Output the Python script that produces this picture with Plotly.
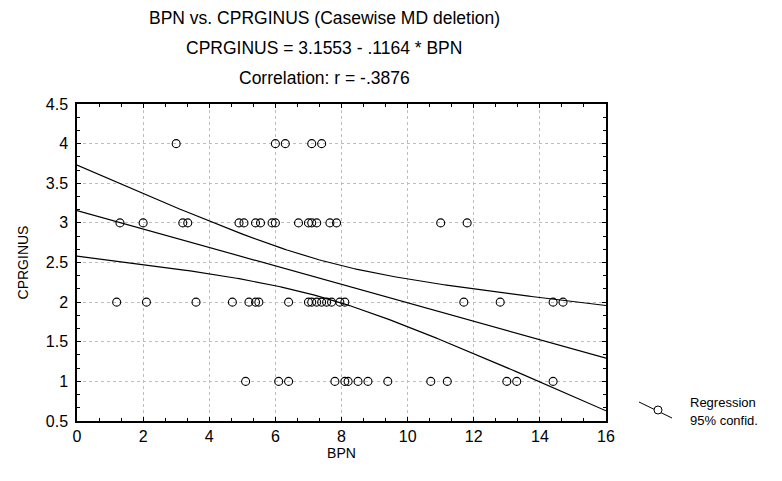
import numpy as np
import plotly.graph_objects as go

# Data (BPN, CPRGINUS)
bpn_y4 = [3.0, 6.0, 6.3, 7.1, 7.4]
bpn_y3 = [1.3, 2.0, 3.2, 3.35, 4.9, 5.05, 5.4, 5.55, 5.9, 6.0, 6.7, 7.0, 7.1, 7.25, 7.65, 7.85, 11.0, 11.8]
bpn_y2 = [1.2, 2.1, 3.6, 4.7, 5.2, 5.4, 5.5, 6.4, 7.0, 7.1, 7.25, 7.4, 7.55, 7.7, 7.95, 8.1, 11.7, 12.8, 14.4, 14.7]
bpn_y1 = [5.1, 6.1, 6.4, 7.8, 8.1, 8.2, 8.5, 8.8, 9.4, 10.7, 11.2, 13.0, 13.3, 14.4]

intercept = 3.1553
slope = -0.1164
t_crit = 2.004  # two-sided 95%, df = n - 2

x_ticks = [0, 2, 4, 6, 8, 10, 12, 14, 16]
y_ticks = [0.5, 1, 1.5, 2, 2.5, 3, 3.5, 4, 4.5]
y_tick_text = ["0.5", "1", "1.5", "2", "2.5", "3", "3.5", "4", "4.5"]

xs = np.array(bpn_y4 + bpn_y3 + bpn_y2 + bpn_y1, dtype=float)
ys = np.array([4] * len(bpn_y4) + [3] * len(bpn_y3) + [2] * len(bpn_y2) + [1] * len(bpn_y1), dtype=float)
n = len(xs)
resid = ys - (intercept + slope * xs)
s = np.sqrt(np.sum(resid ** 2) / (n - 2))
xbar = xs.mean()
sxx = np.sum((xs - xbar) ** 2)

xg = np.linspace(0, 16, 200)
yfit = intercept + slope * xg
half = t_crit * s * np.sqrt(1.0 / n + (xg - xbar) ** 2 / sxx)

fig = go.Figure()
line_style = dict(color="black", width=1.2)
fig.add_trace(go.Scatter(x=xg, y=yfit, mode="lines", line=line_style, showlegend=False, hoverinfo="skip"))
fig.add_trace(go.Scatter(x=xg, y=yfit + half, mode="lines", line=line_style, showlegend=False, hoverinfo="skip"))
fig.add_trace(go.Scatter(x=xg, y=yfit - half, mode="lines", line=line_style, showlegend=False, hoverinfo="skip"))
fig.add_trace(go.Scatter(
    x=xs, y=ys, mode="markers",
    marker=dict(symbol="circle-open", size=8, color="black", line=dict(width=1.1)),
    showlegend=False,
))

L, R, T, B = 77, 176, 104, 60
W, H = 782, 481
pw = W - L - R
ph = H - T - B

def px(xp):
    return (xp - L) / pw

def py(yp):
    return (H - B - yp) / ph

font = dict(family="Liberation Sans, Arial, sans-serif", color="black")
title_lines = [
    "BPN vs. CPRGINUS (Casewise MD deletion)",
    "CPRGINUS = 3.1553 - .1164 * BPN",
    "Correlation: r = -.3876",
]
ann = []
for i, t in enumerate(title_lines):
    ann.append(dict(text=t, x=px(324), y=py(18 + 30 * i), xref="paper", yref="paper",
                    showarrow=False, xanchor="center", yanchor="middle", font=dict(size=17.5, **font)))
ann.append(dict(text="Regression", x=px(688), y=py(402), xref="paper", yref="paper",
                showarrow=False, xanchor="left", yanchor="middle", font=dict(size=13, **font)))
ann.append(dict(text="95% confid.", x=px(688), y=py(420), xref="paper", yref="paper",
                showarrow=False, xanchor="left", yanchor="middle", font=dict(size=13, **font)))

shapes = [
    dict(type="line", xref="paper", yref="paper", x0=px(639), y0=py(402), x1=px(672), y1=py(418),
         line=dict(color="black", width=1)),
    dict(type="circle", xref="paper", yref="paper", x0=px(654), y0=py(406), x1=px(662), y1=py(414),
         line=dict(color="black", width=1), fillcolor="white"),
]

axis_common = dict(
    showline=True, linecolor="black", linewidth=1.5, mirror="ticks",
    ticks="inside", ticklen=4, tickcolor="black", tickwidth=1,
    showgrid=True, gridcolor="#bdbdbd", griddash="dot", gridwidth=1,
    zeroline=False, tickfont=dict(size=16, **font),
)

fig.update_xaxes(range=[0, 16], tickvals=x_ticks, ticktext=[str(v) for v in x_ticks],
                 title=dict(text="BPN", font=dict(size=14, **font), standoff=2),
                 minor=dict(dtick=2/3, tick0=0, ticks="inside", ticklen=3, tickcolor="black", showgrid=False),
                 **axis_common)
fig.update_yaxes(range=[0.5, 4.5], tickvals=y_ticks, ticktext=y_tick_text,
                 title=dict(text="CPRGINUS", font=dict(size=14, **font), standoff=14),
                 minor=dict(dtick=1/6, tick0=0.5, ticks="inside", ticklen=3, tickcolor="black", showgrid=False),
                 ticklabelstandoff=4,
                 **axis_common)

fig.update_layout(
    width=W, height=H,
    margin=dict(l=L, r=R, t=T, b=B),
    paper_bgcolor="white", plot_bgcolor="white",
    annotations=ann, shapes=shapes,
    showlegend=False,
)
fig.write_html("out.html")
